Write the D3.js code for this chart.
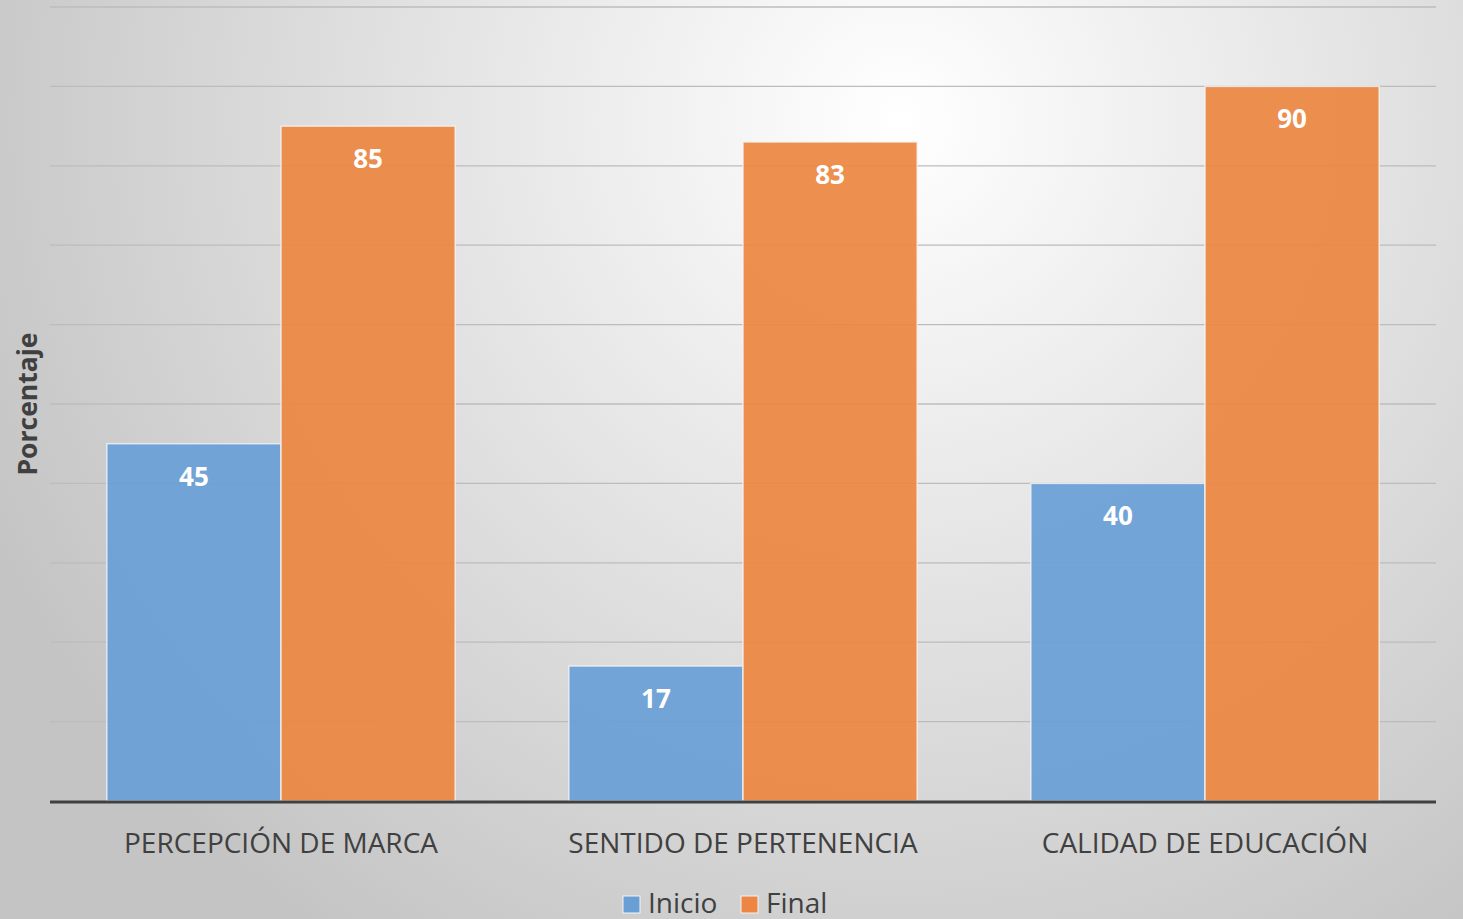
<!DOCTYPE html>
<html>
<head>
<meta charset="utf-8">
<script src="https://cdn.jsdelivr.net/npm/d3@7"></script>
<style>
  body { margin: 0; overflow: hidden; }
  text { font-family: "Open Sans", "Noto Sans", sans-serif; }
</style>
</head>
<body>
<svg id="chart" width="1463" height="919"></svg>
<script>

var categories = ["PERCEPCIÓN DE MARCA", "SENTIDO DE PERTENENCIA", "CALIDAD DE EDUCACIÓN"];
var seriesNames = ["Inicio", "Final"];
var inicioValues = [45, 17, 40];
var finalValues = [85, 83, 90];
var yTicks = [0, 10, 20, 30, 40, 50, 60, 70, 80, 90, 100];

var colors = { "Inicio": "#6a9fd6", "Final": "#ec8642" };

var svg = d3.select("#chart");
var width = 1463, height = 919;
var margin = { top: 7, right: 27, bottom: 118, left: 50 };

// background gradient
var defs = svg.append("defs");
var grad = defs.append("radialGradient")
  .attr("id", "bg")
  .attr("gradientUnits", "userSpaceOnUse")
  .attr("cx", 900).attr("cy", 120).attr("r", 1000);
grad.append("stop").attr("offset", "0%").attr("stop-color", "#ffffff");
grad.append("stop").attr("offset", "100%").attr("stop-color", "#c4c4c4");
svg.append("rect").attr("width", width).attr("height", height).attr("fill", "url(#bg)");

var x0 = d3.scaleBand()
  .domain(categories)
  .range([margin.left, width - margin.right])
  .paddingInner(0.246)
  .paddingOuter(0.123);

var x1 = d3.scaleBand()
  .domain(seriesNames)
  .range([0, x0.bandwidth()]);

var y = d3.scaleLinear()
  .domain([0, 100])
  .range([height - margin.bottom, margin.top]);

// gridlines
svg.append("g").selectAll("line")
  .data(yTicks.slice(1))
  .join("line")
  .attr("x1", margin.left).attr("x2", width - margin.right)
  .attr("y1", function(d) { return y(d); })
  .attr("y2", function(d) { return y(d); })
  .attr("stroke", "#bcbcbc")
  .attr("stroke-width", 1.3);

var rows = categories.map(function(c, i) {
  return { category: c, values: [
    { series: "Inicio", value: inicioValues[i] },
    { series: "Final", value: finalValues[i] }
  ] };
});

var groups = svg.append("g").selectAll("g")
  .data(rows)
  .join("g")
  .attr("transform", function(d) { return "translate(" + x0(d.category) + ",0)"; });

groups.selectAll("rect")
  .data(function(d) { return d.values; })
  .join("rect")
  .attr("x", function(d) { return x1(d.series); })
  .attr("width", x1.bandwidth())
  .attr("y", function(d) { return y(d.value); })
  .attr("height", function(d) { return y(0) - y(d.value); })
  .attr("fill", function(d) { return colors[d.series]; })
  .attr("fill-opacity", 0.93)
  .attr("stroke", "#f4f4f4")
  .attr("stroke-opacity", 0.8)
  .attr("stroke-width", 1.5);

groups.selectAll("text")
  .data(function(d) { return d.values; })
  .join("text")
  .attr("x", function(d) { return x1(d.series) + x1.bandwidth() / 2; })
  .attr("y", function(d) { return y(d.value) + 42; })
  .attr("text-anchor", "middle")
  .attr("fill", "#ffffff")
  .attr("font-weight", "bold")
  .attr("font-size", "26px")
  .text(function(d) { return d.value; });

// baseline axis
svg.append("line")
  .attr("x1", margin.left).attr("x2", width - margin.right)
  .attr("y1", y(0) + 1).attr("y2", y(0) + 1)
  .attr("stroke", "#404040")
  .attr("stroke-width", 3);

// category labels
svg.append("g").selectAll("text")
  .data(categories)
  .join("text")
  .attr("x", function(d) { return x0(d) + x0.bandwidth() / 2; })
  .attr("y", 853)
  .attr("text-anchor", "middle")
  .attr("fill", "#404040")
  .attr("font-size", "28px")
  .text(function(d) { return d; });

// y axis title
svg.append("text")
  .attr("transform", "translate(37," + 404 + ") rotate(-90)")
  .attr("text-anchor", "middle")
  .attr("fill", "#404040")
  .attr("font-weight", "bold")
  .attr("font-size", "26.5px")
  .text("Porcentaje");

// legend
var legendItems = [{ name: "Inicio", x: 623 }, { name: "Final", x: 741 }];
var legend = svg.append("g").selectAll("g")
  .data(legendItems)
  .join("g")
  .attr("transform", function(d) { return "translate(" + d.x + ",896)"; });
legend.append("rect")
  .attr("width", 17).attr("height", 17)
  .attr("fill", function(d) { return colors[d.name]; })
  .attr("stroke", "#f4f4f4").attr("stroke-width", 1);
legend.append("text")
  .attr("x", 25).attr("y", 17)
  .attr("fill", "#404040")
  .attr("font-size", "28px")
  .text(function(d) { return d.name; });

</script>
</body>
</html>
